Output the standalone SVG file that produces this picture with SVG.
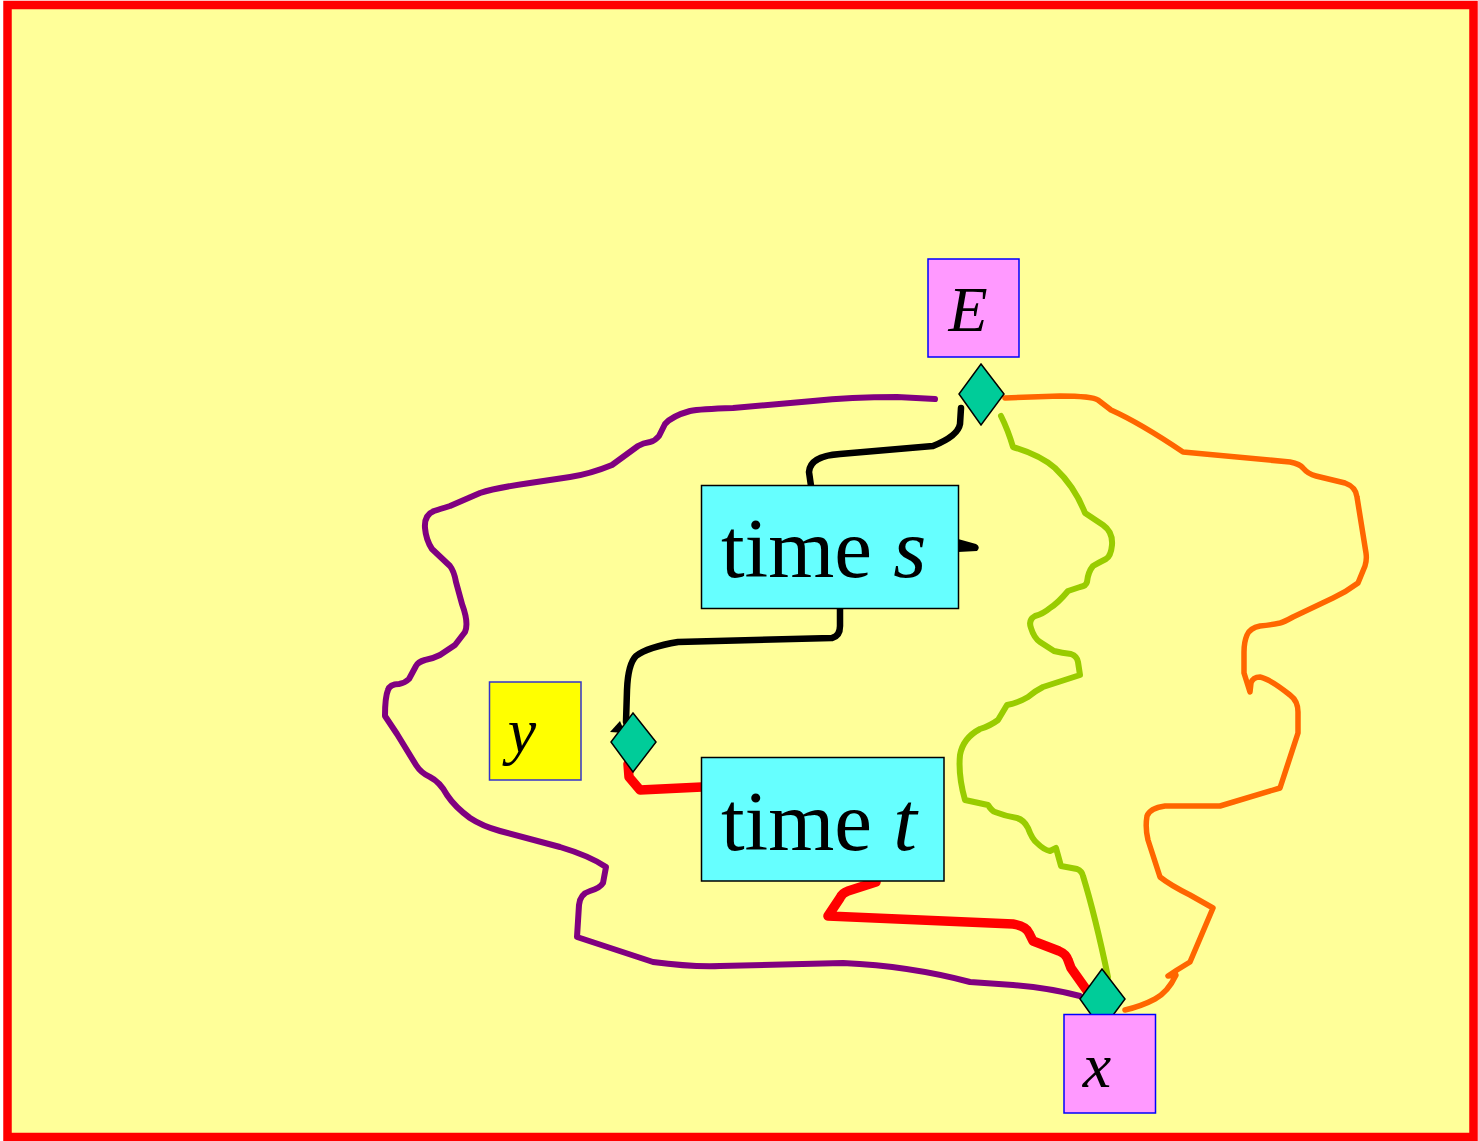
<svg xmlns="http://www.w3.org/2000/svg" width="1478" height="1141" viewBox="0 0 1478 1141">
<style>
.lbl{font-family:"Liberation Serif","Times New Roman",serif;fill:#000}
.it{font-style:italic}
.line{fill:none;stroke-linejoin:round;stroke-linecap:round}
.dia{fill:#00CC99;stroke:#000;stroke-width:1.5}
.pink{fill:#FF99FF;stroke:#0000FF;stroke-width:1.5}
.cyan{fill:#66FFFF;stroke:#000;stroke-width:1.5}
</style>
<rect x="7.5" y="5" width="1466" height="1132" fill="#FFFF99" stroke="#FF0000" stroke-width="8.5"/>
<g id="connectors">
  <path id="purple" class="line" stroke="#800080" stroke-width="6" stroke-linecap="butt" d="M935,399 L897,397 Q850,397 813,401 L733,408 Q700,409 690,411 Q672,416 665,424 L659,436 Q655,441 650,442 Q643,443 638,446 L612,465 Q590,474 570,477 L530,483 Q495,488 480,493 L450,506 Q440,509 434,511 Q424,515 425,528 Q426,540 432,549 L450,566 Q454,571 456,582 L462,604 Q469,623 465,632 L455,645 L440,655 Q432,659 425,660 Q418,662 416,666 L409,679 Q405,683 399,684 Q390,684 388,690 Q385,697 385,716 L397,734 L416,765 Q421,773 430,777 Q440,782 447,795 Q455,807 470,818 Q482,826 500,831 L560,847 Q590,856 606,867 L603,883 Q600,888 590,891 Q580,894 579,905 L577,937 L653,962 Q690,967 720,966 L843,963 Q910,966 970,982 L1013,985 Q1050,988 1080,996"/>
  <path id="orange" class="line" stroke="#FF6600" stroke-width="5.5" d="M1005,398 L1060,396 Q1092,396 1098,400 L1111,410 Q1140,423 1183,452 L1290,462 Q1300,464 1303,468 Q1308,474 1316,476 L1345,483 Q1356,487 1357,497 L1366,553 Q1367,560 1365,566 L1358,583 Q1346,592 1333,598 L1293,617 Q1284,622 1280,623 Q1270,625 1260,626 Q1250,628 1247,635 Q1244,642 1244,652 L1244,673 L1250,692 L1251,683 Q1253,677 1260,677 Q1270,679 1290,695 Q1298,701 1298,712 L1298,733 L1280,788 L1220,806 L1165,806 Q1150,808 1147,816 Q1145,828 1148,840 L1160,877 Q1170,885 1190,895 L1213,908 L1190,962 L1177,970 L1168,976 L1176,975 Q1168,992 1155,999 Q1142,1006 1125,1010"/>
  <path id="green" class="line" stroke="#99CC00" stroke-width="6" stroke-linecap="butt" d="M1001,416 Q1008,430 1013,447 Q1040,455 1055,468 Q1075,487 1085,513 L1103,525 Q1113,532 1112,545 Q1111,556 1106,559 Q1098,563 1093,566 Q1088,572 1087,582 Q1086,586 1080,587 L1068,591 Q1058,603 1050,608 Q1043,614 1035,616 Q1028,620 1031,628 Q1034,638 1040,642 L1054,651 Q1062,653 1071,654 Q1077,656 1078,662 L1080,675 L1043,687 Q1035,691 1028,697 Q1018,703 1007,705 L998,720 Q990,726 980,729 Q963,738 960,755 Q958,775 965,800 L988,805 Q992,811 995,812 Q1005,816 1017,818 Q1024,820 1028,828 Q1032,839 1037,843 Q1044,850 1050,851 L1056,848 L1061,866 L1077,869 Q1082,871 1083,876 Q1095,915 1108,977"/>
  <path id="black1" class="line" stroke="#000" stroke-width="6.5" stroke-linecap="butt" d="M961,408 L960,424 Q958,436 933,446 L840,454 Q810,456 809,472 L811,486"/>
  <path id="black2" class="line" stroke="#000" stroke-width="6.5" stroke-linecap="butt" d="M840,609 L840,626 Q840,636 832,638 L678,642 Q648,647 636,656 Q628,664 627,690 L626,722"/>
  <polygon fill="#000" points="610,732 620,721 625,733"/>
  <path id="red1" class="line" stroke="#FF0000" stroke-width="9.5" stroke-linecap="butt" d="M628,764 L629,777 L640,790 L702,787"/>
  <path id="red2" class="line" stroke="#FF0000" stroke-width="9.5" stroke-linecap="butt" d="M876,882 L848,891 Q842,893 840,898 L828,916 L1013,924 Q1026,926 1029,933 L1033,941 L1059,951 Q1066,954 1068,960 L1071,968 L1088,992"/>
  <path fill="#000" d="M958,539 L976,544 Q981,547 977,551 L958,552 Z"/>
</g>
<g id="node-E">
  <rect class="pink" x="928" y="259" width="91" height="98"/>
  <text class="lbl it" x="968" y="331" font-size="64" text-anchor="middle">E</text>
</g>
<g id="diamond-E"><polygon class="dia" points="981,364 1004,394 981,425 959,394"/></g>
<g id="node-time-s">
  <rect class="cyan" x="701.5" y="485.5" width="257" height="123"/>
  <text class="lbl" x="721" y="577" font-size="85">time <tspan class="it">s</tspan></text>
</g>
<g id="node-y">
  <rect x="489.5" y="682" width="91.5" height="98" fill="#FFFF00" stroke="#3333CC" stroke-width="1.5"/>
  <text class="lbl it" x="522" y="752" font-size="64" text-anchor="middle">y</text>
</g>
<g id="diamond-y"><polygon class="dia" points="633,713 656,742 633,772 611,742"/></g>
<g id="node-time-t">
  <rect class="cyan" x="701.5" y="757.5" width="242.5" height="123.5"/>
  <text class="lbl" x="721" y="850" font-size="85">time <tspan class="it">t</tspan></text>
</g>
<g id="diamond-x"><polygon class="dia" points="1102,969 1125,999 1102,1030 1080,999"/></g>
<g id="node-x">
  <rect class="pink" x="1064" y="1014.5" width="91.5" height="98.5"/>
  <text class="lbl it" x="1097" y="1087" font-size="64" text-anchor="middle">x</text>
</g>
</svg>
